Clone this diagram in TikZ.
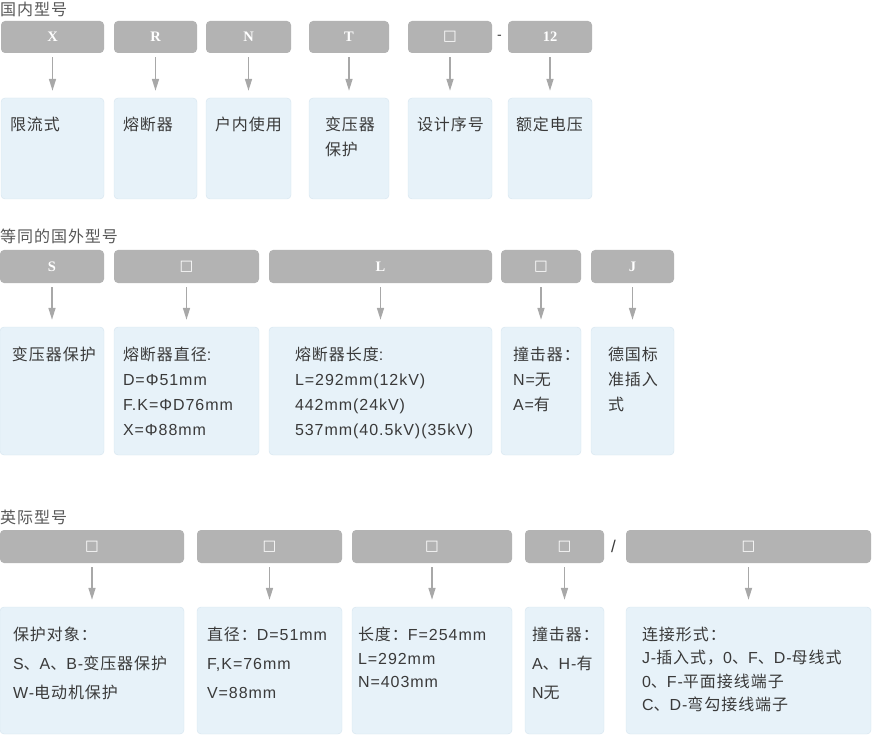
\documentclass[tikz,border=0pt]{standalone}
\usepackage{fontspec}
\setmainfont[LetterSpace=6]{Liberation Sans}
\newfontfamily\cjk[LetterSpace=6]{Noto Sans CJK SC}
\newfontfamily\kopfont{Liberation Serif}
\newfontfamily\sym{DejaVu Sans}
\usetikzlibrary{arrows.meta}
\definecolor{kopgrijs}{HTML}{B3B3B3}
\definecolor{blokblauw}{HTML}{E7F2F9}
\definecolor{randblauw}{HTML}{D5E4EE}
\definecolor{pijlgrijs}{HTML}{A8A8A8}
\definecolor{tekstgrijs}{HTML}{3A3A3A}
\begin{document}
\begin{tikzpicture}[x=1pt, y=-1pt,
  kop/.style={fill=kopgrijs, rounded corners=4pt, inner sep=0pt, minimum height=33pt,
    text=white, font=\kopfont\bfseries\fontsize{14.5}{16}\selectfont},
  blok/.style={fill=blokblauw, draw=randblauw, rounded corners=4pt, inner sep=0pt, minimum height=128pt},
  tekst/.style={anchor=north west, inner sep=0pt, align=left, text=tekstgrijs, font=\fontsize{16}{25}\selectfont},
  titel/.style={anchor=west, inner sep=0pt, text=tekstgrijs!85, font=\cjk\fontsize{16}{20}\selectfont},
  teken/.style={inner sep=0pt, text=tekstgrijs, font=\fontsize{14}{16}\selectfont},
  pijl/.style={draw=pijlgrijs, line width=1.6pt, -{Triangle[width=7pt,length=12pt]}, shorten <=4pt, shorten >=7pt}]
\useasboundingbox (0,0) rectangle (872,735);
% Binnenlands type
\node[titel] (titel1) at (0,9) {国内型号};
\node[kop, minimum width=103pt, minimum height=32pt] (k11) at (52.5,37) {X};
\node[kop, minimum width=83pt, minimum height=32pt] (k12) at (155.5,37) {R};
\node[kop, minimum width=85pt, minimum height=32pt] (k13) at (248.5,37) {N};
\node[kop, minimum width=80pt, minimum height=32pt] (k14) at (349,37) {T};
\node[kop, minimum width=84pt, minimum height=32pt] (k15) at (450,37) {{\sym □}};
\node[kop, minimum width=84pt, minimum height=32pt] (k16) at (550,37) {12};
\node[teken] (streep) at (499.5,37) {-};
\node[blok, minimum width=103pt, minimum height=101pt] (b11) at (52.5,148.5) {};
\node[blok, minimum width=83pt, minimum height=101pt] (b12) at (155.5,148.5) {};
\node[blok, minimum width=85pt, minimum height=101pt] (b13) at (248.5,148.5) {};
\node[blok, minimum width=80pt, minimum height=101pt] (b14) at (349,148.5) {};
\node[blok, minimum width=84pt, minimum height=101pt] (b15) at (450,148.5) {};
\node[blok, minimum width=84pt, minimum height=101pt] (b16) at (550,148.5) {};
\node[tekst] (t11) at ([shift={(9pt,-19pt)}]b11.north west) {\cjk 限流式};
\node[tekst] (t12) at ([shift={(9pt,-19pt)}]b12.north west) {\cjk 熔断器};
\node[tekst] (t13) at ([shift={(9pt,-19pt)}]b13.north west) {\cjk 户内使用};
\node[tekst] (t14) at ([shift={(16pt,-19pt)}]b14.north west) {\cjk 变压器\\\cjk 保护};
\node[tekst] (t15) at ([shift={(9pt,-19pt)}]b15.north west) {\cjk 设计序号};
\node[tekst] (t16) at ([shift={(8pt,-19pt)}]b16.north west) {\cjk 额定电压};
\foreach \i in {1,...,6}
    \draw[pijl] (k1\i) -- (b1\i);
% Gelijkwaardig buitenlands type
\node[titel] (titel2) at (0,236.5) {等同的国外型号};
\node[kop, minimum width=104pt] (k21) at (52,266.5) {S};
\node[kop, minimum width=145pt] (k22) at (186.5,266.5) {{\sym □}};
\node[kop, minimum width=223pt] (k23) at (380.5,266.5) {L};
\node[kop, minimum width=80pt] (k24) at (541,266.5) {{\sym □}};
\node[kop, minimum width=83pt] (k25) at (632.5,266.5) {J};
\node[blok, minimum width=104pt] (b21) at (52,391) {};
\node[blok, minimum width=145pt] (b22) at (186.5,391) {};
\node[blok, minimum width=223pt] (b23) at (380.5,391) {};
\node[blok, minimum width=80pt] (b24) at (541,391) {};
\node[blok, minimum width=83pt] (b25) at (632.5,391) {};
\node[tekst] (t21) at ([shift={(12pt,-20pt)}]b21.north west) {\cjk 变压器保护};
\node[tekst] (t22) at ([shift={(9pt,-20pt)}]b22.north west)
    {{\cjk 熔断器直径}:\\D=Φ51mm\\F.K=ΦD76mm\\X=Φ88mm};
\node[tekst] (t23) at ([shift={(26pt,-20pt)}]b23.north west)
    {{\cjk 熔断器长度}:\\L=292mm(12kV)\\442mm(24kV)\\537mm(40.5kV)(35kV)};
\node[tekst] (t24) at ([shift={(12pt,-20pt)}]b24.north west) {{\cjk 撞击器：}\\N={\cjk 无}\\A={\cjk 有}};
\node[tekst] (t25) at ([shift={(17pt,-20pt)}]b25.north west) {\cjk 德国标\\\cjk 准插入\\\cjk 式};
\foreach \i in {1,...,5}
    \draw[pijl] (k2\i) -- (b2\i);
% Internationaal type
\node[titel] (titel3) at (0,517) {英际型号};
\node[kop, minimum width=184pt] (k31) at (92,546.5) {{\sym □}};
\node[kop, minimum width=145pt] (k32) at (269.5,546.5) {{\sym □}};
\node[kop, minimum width=160pt] (k33) at (432,546.5) {{\sym □}};
\node[kop, minimum width=79pt] (k34) at (564.5,546.5) {{\sym □}};
\node[kop, minimum width=245pt] (k35) at (748.5,546.5) {{\sym □}};
\node[teken, font=\fontsize{17}{19}\selectfont] (schuin) at (613.5,546.5) {/};
\node[blok, minimum width=184pt, minimum height=127pt] (b31) at (92,670.5) {};
\node[blok, minimum width=145pt, minimum height=127pt] (b32) at (269.5,670.5) {};
\node[blok, minimum width=160pt, minimum height=127pt] (b33) at (432,670.5) {};
\node[blok, minimum width=79pt, minimum height=127pt] (b34) at (564.5,670.5) {};
\node[blok, minimum width=245pt, minimum height=127pt] (b35) at (748.5,670.5) {};
\node[tekst, font=\fontsize{16}{29}\selectfont] (t31) at ([shift={(13pt,-20pt)}]b31.north west)
    {{\cjk 保护对象：}\\S{\cjk 、}A{\cjk 、}B-{\cjk 变压器保护}\\W-{\cjk 电动机保护}};
\node[tekst, font=\fontsize{16}{29}\selectfont] (t32) at ([shift={(10pt,-20pt)}]b32.north west)
    {{\cjk 直径：}D=51mm\\F,K=76mm\\V=88mm};
\node[tekst, font=\fontsize{16}{23.5}\selectfont] (t33) at ([shift={(6pt,-20pt)}]b33.north west)
    {{\cjk 长度：}F=254mm\\L=292mm\\N=403mm};
\node[tekst, font=\fontsize{16}{29}\selectfont] (t34) at ([shift={(7pt,-20pt)}]b34.north west)
    {{\cjk 撞击器：}\\A{\cjk 、}H-{\cjk 有}\\N{\cjk 无}};
\node[tekst, font=\fontsize{16}{23.5}\selectfont] (t35) at ([shift={(16pt,-20pt)}]b35.north west)
    {{\cjk 连接形式：}\\J-{\cjk 插入式，}0{\cjk 、}F{\cjk 、}D-{\cjk 母线式}\\0{\cjk 、}F-{\cjk 平面接线端子}\\C{\cjk 、}D-{\cjk 弯勾接线端子}};
\foreach \i in {1,...,5}
    \draw[pijl] (k3\i) -- (b3\i);
\end{tikzpicture}
\end{document}
